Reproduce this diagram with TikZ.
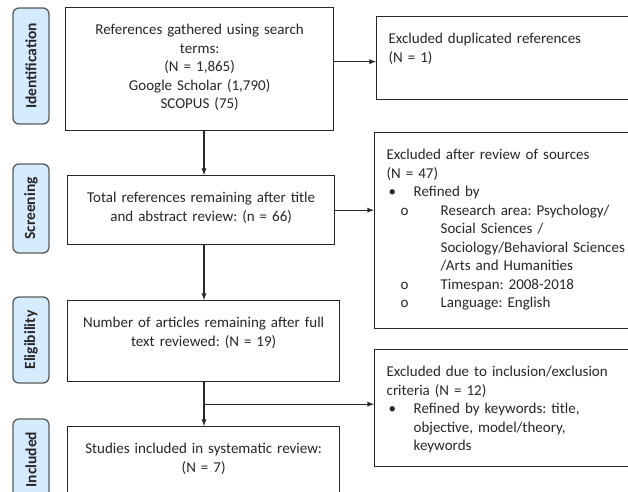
\documentclass[tikz,border=0pt]{standalone}
\usepackage{fontspec}
\setmainfont{Carlito}
\frenchspacing
\usetikzlibrary{arrows}
\usetikzlibrary{calc}
\usetikzlibrary{positioning}

\definecolor{stagefill}{RGB}{213,236,255}
\definecolor{stageline}{RGB}{90,90,90}
\definecolor{boxline}{RGB}{40,40,40}

\tikzset{
  stage/.style={draw=stageline, fill=stagefill, line width=1.3pt, rounded corners=6pt, rotate=90, minimum height=36pt, inner sep=0pt, text=black!85, font=\fontsize{15.5}{16}\selectfont\bfseries},
  flowbox/.style={draw=boxline, line width=1.3pt, anchor=north west, inner xsep=12pt, inner ysep=0pt, text height=27pt, text=black!85, font=\fontsize{15}{18.5}\selectfont},
  link/.style={draw=boxline, line width=1.3pt, ->, >=latex},
}

\begin{document}
\begin{tikzpicture}[x=1pt, y=-1pt]
    \useasboundingbox (0,0) rectangle (628,491);
    \clip (0,0) rectangle (628,491);

    \node[stage, minimum width=116pt] (identification) at (31,66) {Identification};
    \node[stage, minimum width=89pt] (screening) at (31,208.5) {Screening};
    \node[stage, minimum width=86pt] (eligibility) at (31,340) {Eligibility};
    \node[stage, minimum width=81pt] (included) at (31,459.5) {Included};

    \node[flowbox, text width=244pt, text depth=96pt, align=center] (gathered) at (65,7) {References gathered using search\\terms:\\(N = 1,865)\\Google Scholar (1,790)\\SCOPUS (75)};
    \node[flowbox, text width=243pt, text depth=42pt, align=center] (screened) at (67,175) {Total references remaining after title\\and abstract review: (n = 66)};
    \node[flowbox, text width=248pt, text depth=54pt, align=center] (eligible) at (67,300) {Number of articles remaining after full\\text reviewed: (N = 19)};
    \node[flowbox, text width=248pt, text depth=43pt, align=center] (studies) at (67,426) {Studies included in systematic review:\\(N = 7)};

    \node[flowbox, text width=280pt, text depth=56pt, align=left] (duplicates) at (376,16) {Excluded duplicated references\\(N = 1)};
    \node[flowbox, text width=280pt, text depth=169pt, align=left] (sources) at (374,132) {Excluded after review of sources\\(N = 47)\\
      \hspace*{2pt}\makebox[25pt][l]{\textbullet}Refined by\\
      \hspace*{14pt}\makebox[40pt][l]{o}Research area: Psychology/\\
      \hspace*{54pt}Social Sciences /\\
      \hspace*{54pt}Sociology/Behavioral Sciences\\
      \hspace*{54pt}/Arts and Humanities\\
      \hspace*{14pt}\makebox[40pt][l]{o}Timespan: 2008-2018\\
      \hspace*{14pt}\makebox[40pt][l]{o}Language: English};
    \node[flowbox, text width=280pt, text depth=90pt, align=left] (criteria) at (374,349) {Excluded due to inclusion/exclusion\\criteria (N = 12)\\
      \hspace*{2pt}\makebox[25pt][l]{\textbullet}Refined by keywords: title,\\
      \hspace*{27pt}objective, model/theory,\\
      \hspace*{27pt}keywords};

    \coordinate (spine) at (204,0);
    \coordinate (split) at ($(eligible.south -| spine)!0.5!(studies.north -| spine)$);

    \draw[link] (gathered.south -| spine) -- (screened.north -| spine);
    \draw[link] (screened.south -| spine) -- (eligible.north -| spine);
    \draw[link] (eligible.south -| spine) -- (studies.north -| spine);
    \draw[link] ([yshift=7.5pt]gathered.east) -- ([yshift=7.5pt]gathered.east -| duplicates.west);
    \draw[link] (screened.east) -- (screened.east -| sources.west);
    \draw[link] (split) -- (split -| criteria.west);
\end{tikzpicture}
\end{document}
